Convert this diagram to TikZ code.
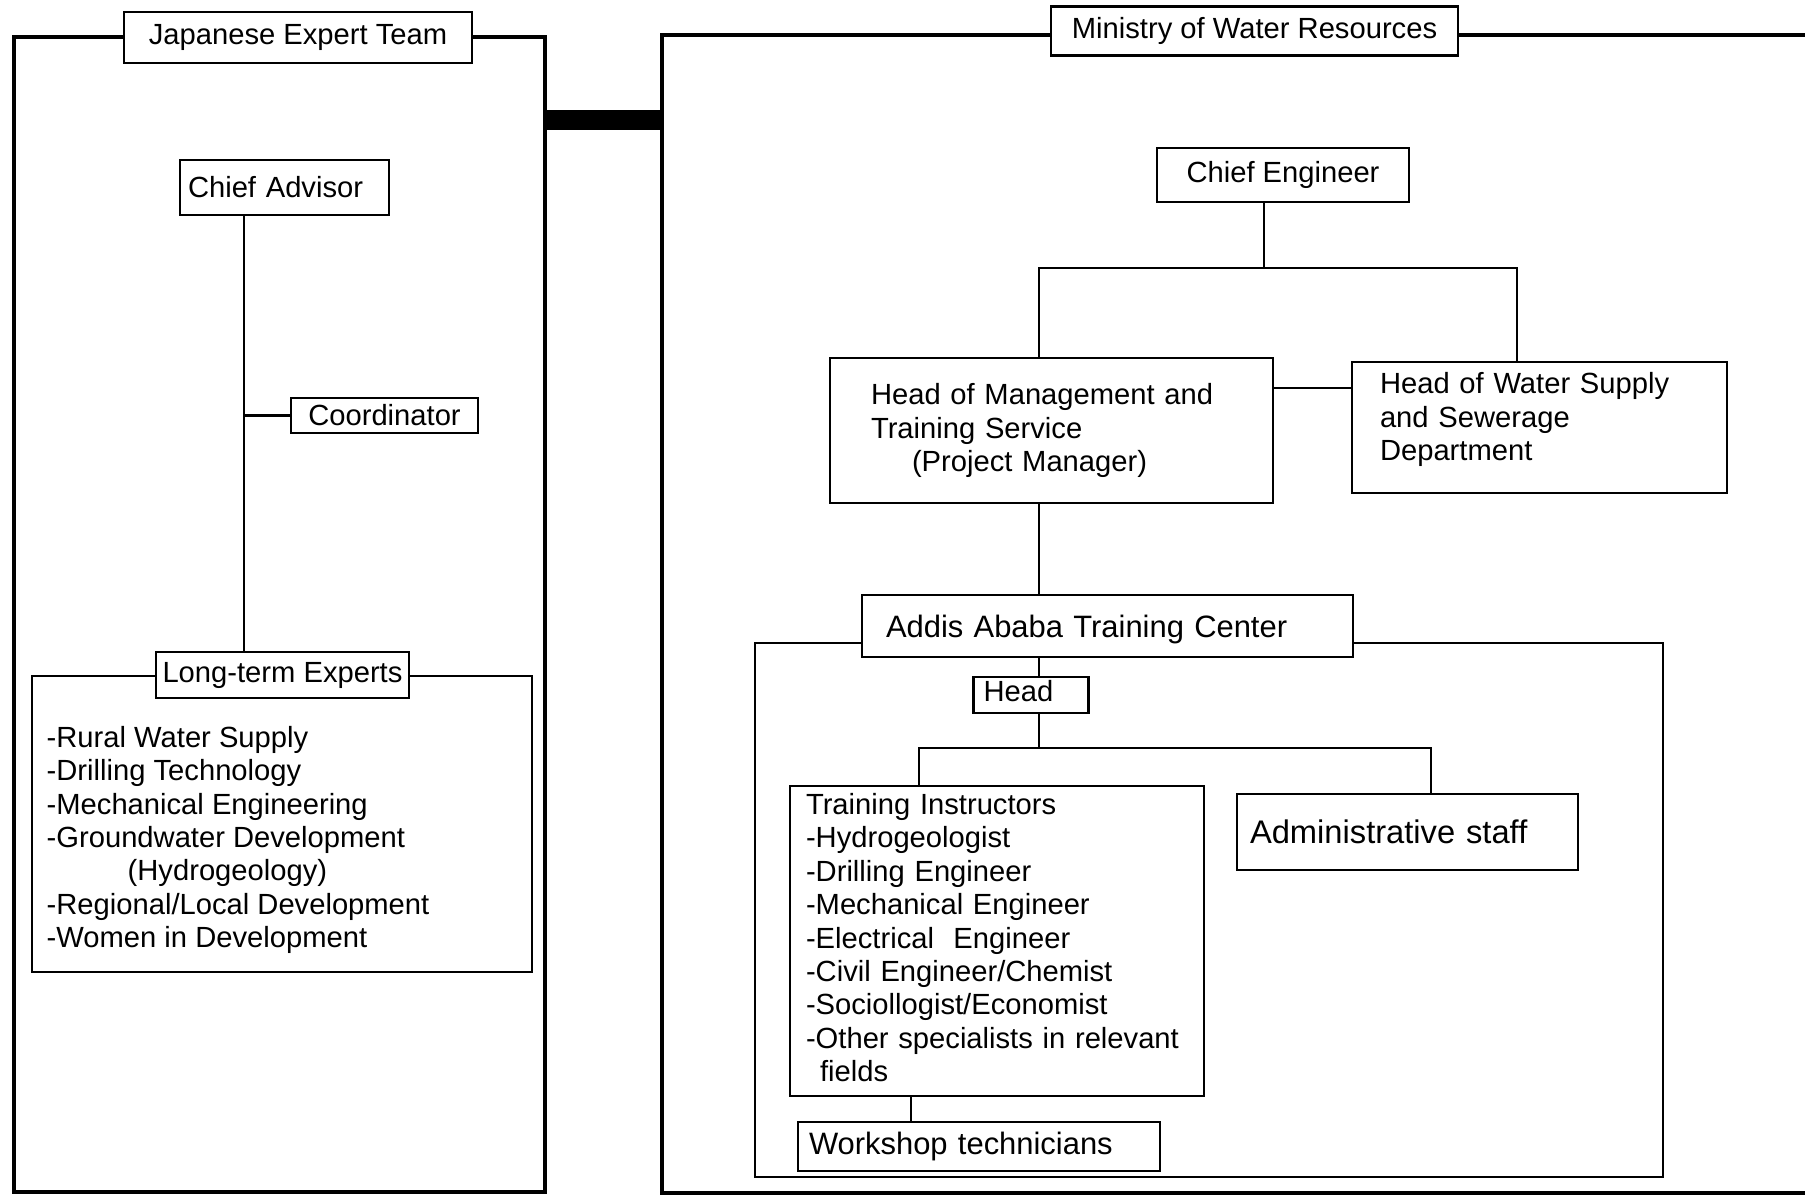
\documentclass[tikz,border=0pt]{standalone}
\usepackage{fontspec}
\setmainfont{Liberation Sans}
\begin{document}
\begin{tikzpicture}[
  box/.style={draw, fill=white, line width=0.8pt, inner sep=0pt, font=\fontsize{8.3}{9.5}\selectfont},
  leftbox/.style={box, align=left},
  frame/.style={draw, line width=1.2pt, inner sep=0pt},
  subframe/.style={draw, line width=0.7pt, inner sep=0pt},
  link/.style={line width=0.6pt}
]
\clip (0, 0) rectangle (18.05, -11.96);
\node[frame, minimum width=5.31cm, minimum height=11.55cm] (jetframe) at(2.795, -6.145) {};
\node[frame, minimum width=12.38cm, minimum height=11.58cm] (mwrframe) at(12.81, -6.14) {};
\coordinate (bar) at(6, -1.2);
\draw[line width=5.7pt] (jetframe.east |- bar) -- (mwrframe.west |- bar);
\node[box, minimum width=3.48cm, minimum height=0.51cm] (jet) at(2.98, -0.375) {Japanese Expert Team};
\node[box, minimum width=4.07cm, minimum height=0.49cm] (mwr) at(12.545, -0.31) {Ministry of Water Resources};
\node[leftbox, minimum width=2.09cm, minimum height=0.55cm, text width=1.93cm] (ca) at(2.845, -1.875) {Chief Advisor};
\node[box, minimum width=1.87cm, minimum height=0.35cm] (coord) at(3.845, -4.155) {Coordinator};
\node[subframe, minimum width=5.00cm, minimum height=2.96cm] (ltebox) at(2.82, -8.24) {};
\node[box, minimum width=2.53cm, minimum height=0.46cm] (lte) at(2.825, -6.75) {Long-term Experts};
\node[anchor=west, align=left, inner sep=0pt, font=\fontsize{8.3}{9.5}\selectfont] (ltelist) at(0.46, -8.40) {-Rural Water Supply\\-Drilling Technology\\-Mechanical Engineering\\-Groundwater Development\\\hspace*{0.81cm}(Hydrogeology)\\-Regional/Local Development\\-Women in Development};
\coordinate (spine) at(2.44, -4.155);
\draw[link] (ca.south -| spine) -- (lte.north -| spine);
\draw[link] (spine) -- (coord.west);
\node[box, minimum width=2.52cm, minimum height=0.54cm] (ce) at(12.83, -1.75) {Chief Engineer};
\node[leftbox, minimum width=4.43cm, minimum height=1.45cm, text width=3.61cm] (hom) at(10.515, -4.305) {Head of Management and\\Training Service\\\hspace*{0.41cm}(Project Manager)};
\node[leftbox, minimum width=3.75cm, minimum height=1.31cm, text width=3.19cm] (hows) at(15.395, -4.275) {Head of Water Supply\\and Sewerage\\Department\rule[-0.22cm]{0pt}{0pt}};
\coordinate (mgmtcol) at(10.39, -2.68);
\coordinate (wscol) at(15.17, -2.68);
\coordinate (cetrunk) at(12.64, -2.68);
\coordinate (tie) at(11.5, -3.88);
\draw[link] (ce.south -| cetrunk) -- (cetrunk);
\draw[link] (hom.north -| mgmtcol) -- (mgmtcol) -- (wscol) -- (hows.north -| wscol);
\draw[link] (hom.east |- tie) -- (hows.west |- tie);
\node[subframe, minimum width=9.08cm, minimum height=5.34cm] (atcframe) at(12.09, -9.10) {};
\node[leftbox, minimum width=4.91cm, minimum height=0.62cm, text width=4.43cm, text depth=0pt, font=\fontsize{8.8}{10}\selectfont] (atc) at(11.075, -6.26) {Addis Ababa Training Center};
\draw[link] (hom.south -| mgmtcol) -- (atc.north -| mgmtcol);
\node[leftbox, minimum width=1.15cm, minimum height=0.36cm, text width=0.95cm, text depth=0.09cm] (head) at(10.31, -6.95) {Head};
\draw[link] (atc.south -| mgmtcol) -- (head.north -| mgmtcol);
\node[leftbox, minimum width=4.14cm, minimum height=3.10cm, text width=3.82cm] (ti) at(9.97, -9.41) {Training Instructors\\-Hydrogeologist\\-Drilling Engineer\\-Mechanical Engineer\\-Electrical\ \ Engineer\\-Civil Engineer/Chemist\\-Sociollogist/Economist\\-Other specialists in relevant\\\hspace*{0.14cm}fields\rule[-0.07cm]{0pt}{0pt}};
\node[leftbox, minimum width=3.41cm, minimum height=0.76cm, text width=3.15cm, font=\fontsize{9.3}{11}\selectfont] (adm) at(14.075, -8.32) {Administrative staff};
\coordinate (ticol) at(9.19, -7.48);
\coordinate (admcol) at(14.31, -7.48);
\draw[link] (head.south -| mgmtcol) -- (mgmtcol |- ticol);
\draw[link] (ti.north -| ticol) -- (ticol) -- (admcol) -- (adm.north -| admcol);
\node[leftbox, minimum width=3.62cm, minimum height=0.49cm, text width=3.40cm, font=\fontsize{8.8}{10}\selectfont] (wks) at(9.79, -11.465) {Workshop technicians};
\coordinate (wkcol) at(9.11, -10.96);
\draw[link] (ti.south -| wkcol) -- (wks.north -| wkcol);
\end{tikzpicture}
\end{document}
